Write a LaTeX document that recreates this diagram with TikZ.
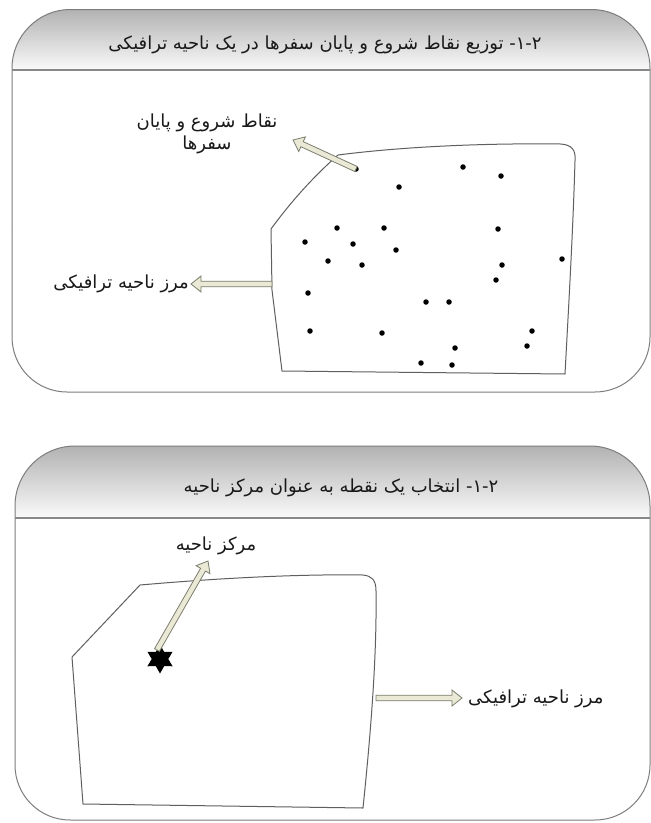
\documentclass[tikz,border=0pt]{standalone}
\usepackage{fontspec}
\newfontfamily\fa[Script=Arabic]{DejaVu Sans}
\TeXXeTstate=1
\usetikzlibrary{calc,shapes.geometric}
\definecolor{frameline}{RGB}{125,125,125}
\definecolor{headline}{RGB}{135,135,135}
\definecolor{headtop}{RGB}{178,178,178}
\definecolor{headmid}{RGB}{226,226,226}
\definecolor{headbot}{RGB}{250,250,250}
\definecolor{zoneline}{RGB}{95,95,95}
\definecolor{arrowfill}{RGB}{233,233,213}
\definecolor{arrowline}{RGB}{125,125,110}
\definecolor{txt}{RGB}{25,25,25}
\newcommand\blockarrow[2]{%
  \filldraw[barrow]
   ($(#1)!2.8pt!90:(#2)$) --
   ($($(#2)!10pt!(#1)$)!2.8pt!90:(#2)$) --
   ($($(#2)!10pt!(#1)$)!8pt!90:(#2)$) --
   (#2) --
   ($($(#2)!10pt!(#1)$)!8pt!-90:(#2)$) --
   ($($(#2)!10pt!(#1)$)!2.8pt!-90:(#2)$) --
   ($(#1)!2.8pt!-90:(#2)$) -- cycle;}
\begin{document}
\begin{tikzpicture}[x=1pt,y=-1pt,
  framestyle/.style={draw=frameline,line width=1pt},
  headsep/.style={draw=headline,line width=2pt},
  headshade/.style={top color=headtop,middle color=headmid,bottom color=headbot},
  zone/.style={draw=zoneline,line width=1pt,line join=round},
  barrow/.style={fill=arrowfill,draw=arrowline,line width=0.8pt,line join=miter},
  dot/.style={circle,fill=black,inner sep=0pt,minimum size=5.5pt},
  titletext/.style={text=txt,font=\fa\fontsize{18}{21}\selectfont,inner sep=0pt},
  labeltext/.style={text=txt,font=\fa\fontsize{18}{22}\selectfont,inner sep=0pt,align=center},
  starmark/.style={star,star points=6,star point ratio=1.75,fill=black,inner sep=0pt,minimum size=29pt}]
\useasboundingbox (0,0) rectangle (651,823);
\fill[white] (0,0) rectangle (651,823);

% ---------- panel 1 ----------
\shade[headshade] (12,70) -- (12,68) .. controls (12,36) and (38.5,9.5) .. (70,9.5)
  -- (592,9.5) .. controls (623.5,9.5) and (650,36) .. (650,68) -- (650,70) -- cycle;
\draw[framestyle] (12,230) -- (12,68) .. controls (12,36) and (38.5,9.5) .. (70,9.5)
  -- (592,9.5) .. controls (623.5,9.5) and (650,36) .. (650,68) -- (650,230);
\draw[framestyle] (12,230) -- (12,337) .. controls (12,367.4) and (36.6,392) .. (67,392)
  -- (595,392) .. controls (625.4,392) and (650,367.4) .. (650,337) -- (650,230);
\draw[headsep] (12,70) -- (650,70);
\node[titletext] (t1) at (325,45) {\beginR ۲\kern0pt-\kern0pt۱\kern0pt- توزیع نقاط شروع و پایان سفرها در یک ناحیه ترافیکی\endR};

% zone 1
\draw[zone] (338,155) .. controls (400,147) and (480,143) .. (561,144)
  .. controls (572,145) and (576,150) .. (575,161)
  .. controls (573,230) and (569,300) .. (565,374)
  -- (282,371) -- (272,290) -- (271,229)
  .. controls (290,203) and (312,178) .. (338,155);
\coordinate (b1) at (272,284);

\foreach \n/\px/\py in {1/356/169,2/463/167,3/501/176,4/399/187,5/337/228,6/384/228,7/498/229,
  8/305/242,9/353/244,10/396/250,11/328/261,12/362/265,13/562/259,14/502/265,15/496/280,
  16/308/293,17/426/302,18/449/302,19/310/331,20/382/333,21/532/331,22/527/346,23/455/348,
  24/421/363,25/452/365}
  \node[dot] (d\n) at (\px,\py) {};

\node[labeltext] (l1) at (207,134) {\beginR نقاط شروع و پایان\endR\\\beginR سفرها\endR};
\node[labeltext,anchor=east] (l2) at (189,284) {\beginR مرز ناحیه ترافیکی\endR};
\coordinate (a1) at (293,140);
\coordinate (a2) at (191,284);
\blockarrow{d1}{a1}
\blockarrow{b1}{a2}

% ---------- panel 2 ----------
\shade[headshade] (15,518) -- (15,506) .. controls (15,472.9) and (41.9,446) .. (75,446)
  -- (590,446) .. controls (623.1,446) and (650,472.9) .. (650,506) -- (650,518) -- cycle;
\draw[framestyle] (15,650) -- (15,506) .. controls (15,472.9) and (41.9,446) .. (75,446)
  -- (590,446) .. controls (623.1,446) and (650,472.9) .. (650,506) -- (650,650);
\draw[framestyle] (15,650) -- (15,765) .. controls (15,795.4) and (39.6,820) .. (70,820)
  -- (595,820) .. controls (625.4,820) and (650,795.4) .. (650,765) -- (650,650);
\draw[headsep] (15,518) -- (650,518);
\node[titletext] (t2) at (341,488) {\beginR ۲\kern0pt-\kern0pt۱\kern0pt- انتخاب یک نقطه به عنوان مرکز ناحیه\endR};

% zone 2
\draw[zone] (140,585) .. controls (220,578) and (300,574) .. (363,575)
  .. controls (372,576) and (376,580) .. (376,591)
  .. controls (377,660) and (370,740) .. (363,808)
  -- (83,804) -- (72,657) -- cycle;
\coordinate (b2) at (376,698);

\node[starmark] (s) at (160,659) {};
\node[labeltext] (l3) at (216,546) {\beginR مرکز ناحیه\endR};
\node[labeltext,anchor=west] (l4) at (468,699) {\beginR مرز ناحیه ترافیکی\endR};
\coordinate (a3) at (208,561);
\coordinate (a4) at (462,698);
\coordinate (s1) at (157,650);
\blockarrow{s1}{a3}
\blockarrow{b2}{a4}
\end{tikzpicture}
\end{document}
